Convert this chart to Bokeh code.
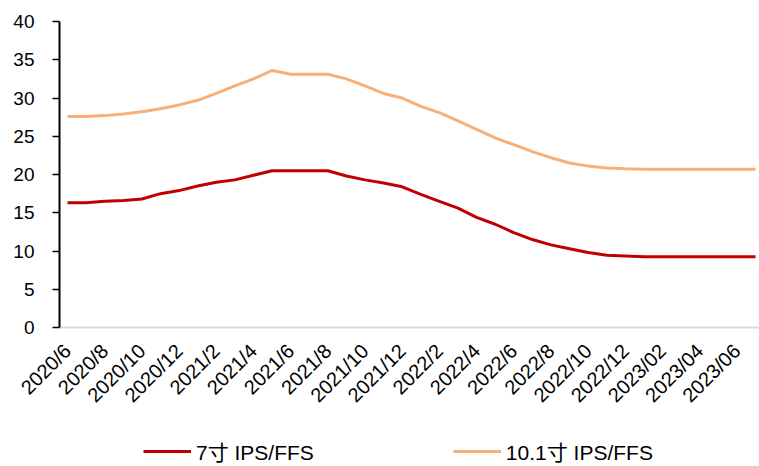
from bokeh.plotting import figure
from bokeh.models import Range1d, FixedTicker, Legend, LegendItem
from bokeh.embed import file_html
from bokeh.resources import INLINE

months = ["2020/6", "2020/7", "2020/8", "2020/9", "2020/10", "2020/11", "2020/12",
          "2021/1", "2021/2", "2021/3", "2021/4", "2021/5", "2021/6", "2021/7",
          "2021/8", "2021/9", "2021/10", "2021/11", "2021/12",
          "2022/1", "2022/2", "2022/3", "2022/4", "2022/5", "2022/6", "2022/7",
          "2022/8", "2022/9", "2022/10", "2022/11", "2022/12",
          "2023/01", "2023/02", "2023/03", "2023/04", "2023/05", "2023/06", "2023/07"]

tick_labels = ["2020/6", "2020/8", "2020/10", "2020/12", "2021/2", "2021/4", "2021/6",
               "2021/8", "2021/10", "2021/12", "2022/2", "2022/4", "2022/6", "2022/8",
               "2022/10", "2022/12", "2023/02", "2023/04", "2023/06"]

ips_7 = [16.3, 16.3, 16.5, 16.6, 16.8, 17.5, 17.9, 18.5, 19.0, 19.3, 19.9, 20.5, 20.5,
         20.5, 20.5, 19.8, 19.3, 18.9, 18.4, 17.4, 16.5, 15.6, 14.4, 13.5, 12.4, 11.5,
         10.8, 10.3, 9.8, 9.45, 9.35, 9.25, 9.25, 9.25, 9.25, 9.25, 9.25, 9.25]

ips_101 = [27.6, 27.6, 27.7, 27.9, 28.2, 28.6, 29.1, 29.7, 30.6, 31.6, 32.5, 33.6, 33.1,
           33.1, 33.1, 32.5, 31.6, 30.6, 30.0, 28.9, 28.1, 27.0, 25.9, 24.8, 23.9, 23.0,
           22.2, 21.5, 21.1, 20.85, 20.75, 20.7, 20.7, 20.7, 20.7, 20.7, 20.7, 20.7]

series_names = ["7寸 IPS/FFS", "10.1寸 IPS/FFS"]
colors = ["#C00000", "#F8B079"]

FONT = "Liberation Sans, Arial, Noto Sans CJK SC, sans-serif"

x = list(range(len(months)))
tick_pos = [i for i in x if i % 2 == 0]

X_AXIS_START = -0.43
X_END = 37.215

p = figure(width=759, height=466, output_backend="svg", toolbar_location=None,
           x_range=Range1d(-3.603, X_END), y_range=Range1d(-18.17, 42.75),
           min_border_left=0, min_border_right=0, min_border_top=0, min_border_bottom=0)
p.outline_line_color = None
p.grid.visible = False

r1 = p.line(x, ips_7, line_color=colors[0], line_width=3)
r2 = p.line(x, ips_101, line_color=colors[1], line_width=3)

p.xaxis.fixed_location = 0
p.xaxis.bounds = (X_AXIS_START, X_END)
p.xaxis.ticker = FixedTicker(ticks=tick_pos)
p.xaxis.major_label_overrides = {pos: lab for pos, lab in zip(tick_pos, tick_labels)}
p.xaxis.major_label_orientation = 0.785398
p.xaxis.major_tick_line_color = None
p.xaxis.minor_tick_line_color = None
p.xaxis.axis_line_color = "#D9D9D9"
p.xaxis.axis_line_width = 2
p.xaxis.major_label_text_font = FONT
p.xaxis.major_label_text_font_size = "20px"
p.xaxis.major_label_text_color = "#000000"
p.xaxis.major_label_standoff = 14

p.yaxis.fixed_location = X_AXIS_START
p.yaxis.bounds = (0, 40)
p.yaxis.ticker = FixedTicker(ticks=[0, 5, 10, 15, 20, 25, 30, 35, 40])
p.yaxis.minor_tick_line_color = None
p.yaxis.major_tick_in = 0
p.yaxis.major_tick_out = 7
p.yaxis.major_tick_line_width = 1.5
p.yaxis.axis_line_width = 2
p.yaxis.axis_line_color = "#000000"
p.yaxis.major_tick_line_color = "#000000"
p.yaxis.major_label_text_font = FONT
p.yaxis.major_label_text_font_size = "19px"
p.yaxis.major_label_text_color = "#000000"
p.yaxis.major_label_standoff = 18

legend = Legend(items=[LegendItem(label=series_names[0], renderers=[r1]),
                       LegendItem(label=series_names[1], renderers=[r2])],
                orientation="horizontal", location=(143, 0),
                glyph_width=48, glyph_height=20, label_standoff=5, spacing=139,
                padding=0, margin=0, border_line_color=None, background_fill_alpha=0,
                label_text_font=FONT, label_text_font_size="21px", label_text_color="#000000")
p.add_layout(legend, "center")

open("out.html", "w").write(file_html(p, INLINE))
